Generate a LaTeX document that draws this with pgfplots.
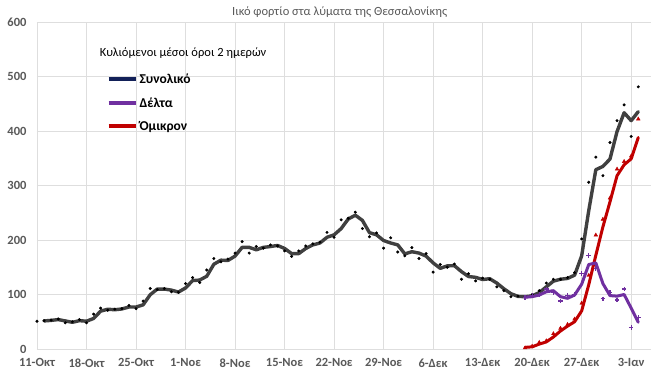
\documentclass[border=0pt]{standalone}
\usepackage{pgfplots}
\pgfplotsset{compat=1.18}
\usepackage{pgfplotstable}
\usepackage{fontspec}
\setmainfont{Carlito}
\definecolor{totc}{RGB}{64,64,64}
\definecolor{navyc}{RGB}{18,32,88}
\definecolor{delc}{RGB}{112,48,160}
\definecolor{omic}{RGB}{192,0,0}
\definecolor{gridc}{RGB}{222,222,222}
\definecolor{labc}{RGB}{89,89,89}

\pgfplotstableread{
d v
0 51
1 52
2 53
3 55
4 48
5 50
6 54
7 48
8 64
9 75
10 71
11 73
12 74
13 80
14 74
15 88
16 111
17 109
18 111
19 105
20 104
21 120
22 131
23 122
24 145
25 166
26 160
27 165
28 176
29 197
30 176
31 188
32 185
33 191
34 189
35 180
36 170
37 180
38 189
39 193
40 196
41 214
42 205
43 237
44 240
45 251
46 221
47 206
48 213
49 185
50 204
51 178
52 171
53 186
54 166
55 175
56 141
57 155
58 150
59 156
60 128
61 138
62 125
63 130
64 128
65 114
66 107
67 96
68 97
69 95
70 100
71 107
72 121
73 128
74 128
75 131
76 140
77 202
78 306
79 352
80 318
81 379
82 419
83 448
84 390
85 481
}\totdots

\pgfplotstableread{
d v
1 51.5
2 52.5
3 54
4 51.5
5 49
6 52
7 51
8 56
9 69.5
10 73
11 72
12 73.5
13 77
14 77
15 81
16 99.5
17 110
18 110
19 108
20 104.5
21 112
22 125.5
23 126.5
24 133.5
25 155.5
26 163
27 162.5
28 170.5
29 186.5
30 186.5
31 182
32 186.5
33 188
34 190
35 184.5
36 175
37 175
38 184.5
39 191
40 194.5
41 205
42 209.5
43 221
44 238.5
45 245.5
46 236
47 213.5
48 209.5
49 199
50 194.5
51 191
52 174.5
53 178.5
54 176
55 170.5
56 158
57 148
58 152.5
59 153
60 142
61 133
62 131.5
63 127.5
64 129
65 121
66 110.5
67 101.5
68 96.5
69 96
70 97.5
71 103.5
72 114
73 124.5
74 128
75 129.5
76 135.5
77 171
78 254
79 329
80 335
81 348.5
82 399
83 433.5
84 419
85 435.5
}\totline

\pgfplotstableread{
d v
69 94
70 98
71 100
72 110
73 104
74 88
75 98
76 100
77 138
78 172
79 148
80 92
81 104
82 90
83 110
84 40
85 58
}\deldots

\pgfplotstableread{
d v
69 95
70 96
71 99
72 105
73 107
74 96
75 93
76 99
77 119
78 155
79 158
80 120
81 98
82 97
83 100
84 75
85 49
}\delline

\pgfplotstableread{
d v
69 2
70 5
71 12
72 15
73 28
74 38
75 45
76 55
77 84
78 135
79 209
80 238
81 277
82 330
83 344
84 354
85 422
}\omidots

\pgfplotstableread{
d v
69 3
70 4
71 9
72 13
73 22
74 33
75 42
76 50
77 70
78 118
79 172
80 224
81 270
82 318
83 338
84 349
85 388
}\omiline

\begin{document}
\begin{tikzpicture}
\path[use as bounding box] (0,0) rectangle (660pt,380pt);
\begin{axis}[
  at={(37pt,31pt)}, anchor=south west,
  scale only axis, width=614pt, height=327pt,
  xmin=0, xmax=86.8, ymin=0, ymax=600,
  clip=false,
  xtick={0,7,...,84},
  xticklabels={11-Οκτ,18-Οκτ,25-Οκτ,1-Νοε,8-Νοε,15-Νοε,22-Νοε,29-Νοε,6-Δεκ,13-Δεκ,20-Δεκ,27-Δεκ,3-Ιαν},
  ytick={0,100,...,600},
  grid=major,
  grid style={gridc, line width=0.7pt},
  axis line style={draw=none},
  major tick length=0pt,
  /pgf/number format/assume math mode=true,
  tick label style={font=\bfseries\fontsize{12.5}{14}\selectfont, text=labc},
  yticklabel style={xshift=-7pt},
  xticklabel style={yshift=-6pt},
  legend style={at={(rel axis cs:0.113,0.848)}, anchor=north west, draw=none, fill=none,
    font=\bfseries\fontsize{13.5}{15}\selectfont, row sep=8.5pt, inner sep=0pt},
  legend cell align=left,
  legend image code/.code={\draw[#1] (0pt,0pt) -- (27pt,0pt);},
]
\addlegendimage{navyc, line width=4pt}
\addlegendentry{Συνολικό}
\addlegendimage{delc, line width=4pt}
\addlegendentry{Δέλτα}
\addlegendimage{omic, line width=4pt}
\addlegendentry{Όμικρον}

\addplot[forget plot, only marks, mark=*, mark size=1.3pt, black] table[x=d,y=v] {\totdots};
\addplot[forget plot, only marks, mark=+, mark size=2.3pt, delc, line width=1.2pt] table[x=d,y=v] {\deldots};
\addplot[forget plot, only marks, mark=triangle*, mark size=2.1pt, omic] table[x=d,y=v] {\omidots};
\addplot[forget plot, omic, line width=3pt, line join=round, line cap=round] table[x=d,y=v] {\omiline};
\addplot[forget plot, totc, line width=3.4pt, line join=round, line cap=round] table[x=d,y=v] {\totline};
\addplot[forget plot, delc, line width=3pt, line join=round, line cap=round] table[x=d,y=v] {\delline};

\node[font=\fontsize{12.5}{14}\selectfont, text=black] at (rel axis cs:0.238,0.905) {Κυλιόμενοι μέσοι όροι 2 ημερών};
\node[font=\fontsize{12.5}{14}\selectfont, text=labc] at (rel axis cs:0.493,1) [yshift=10pt] {Ιικό φορτίο στα λύματα της Θεσσαλονίκης};
\end{axis}
\end{tikzpicture}
\end{document}
